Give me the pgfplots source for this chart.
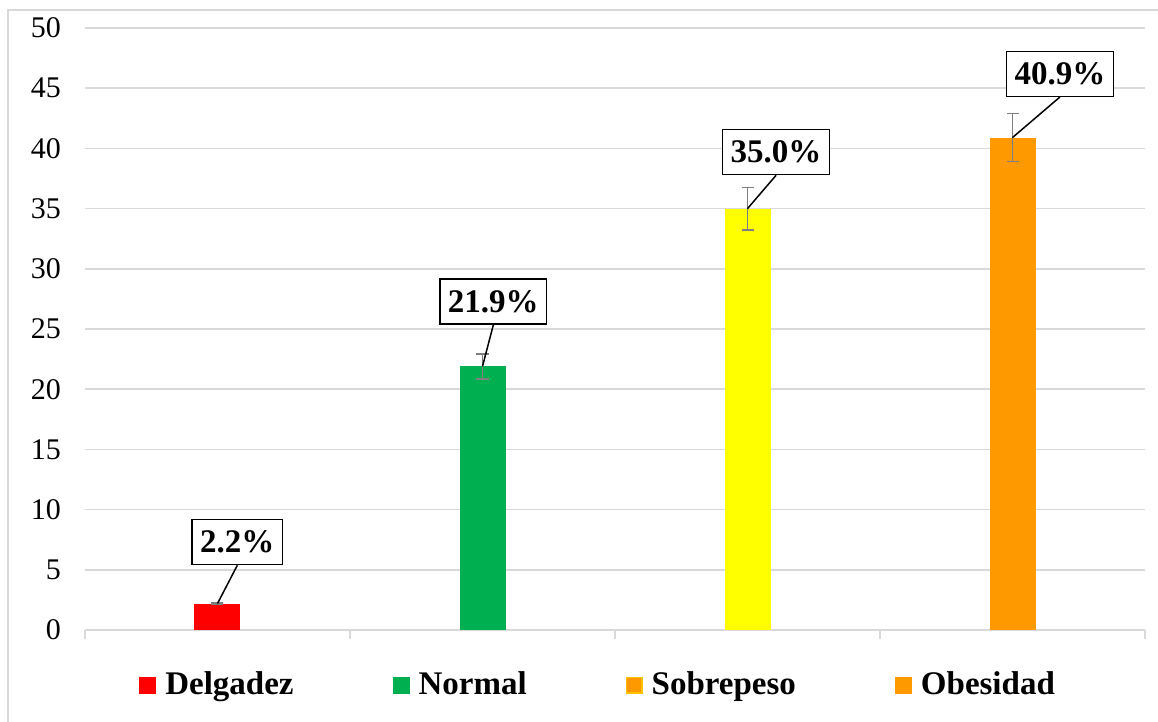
\documentclass[border=0pt]{standalone}
\usepackage{pgfplots}
\pgfplotsset{compat=1.18}
\usepackage{fontspec}
\setmainfont{Liberation Serif}
\definecolor{cRed}{HTML}{FF0000}
\definecolor{cGreen}{HTML}{00B050}
\definecolor{cYellow}{HTML}{FFFF00}
\definecolor{cOrange}{HTML}{FF9900}
\definecolor{cBorder}{HTML}{FFC000}
\definecolor{cGrid}{HTML}{D9D9D9}
\definecolor{cErr}{HTML}{7F7F7F}
\begin{document}
\begin{tikzpicture}
\useasboundingbox (-42.5pt,-46pt) rectangle (536.5pt,315pt);
\draw[cGrid, line width=0.6pt] (-38.5pt,-46pt) -- (-38.5pt,310pt) -- (536.5pt,310pt);
\begin{axis}[
  scale only axis, width=530pt, height=301pt,
  xmin=0.5, xmax=4.5, ymin=0, ymax=50,
  ytick={0,5,...,50},
  xtick={0.5,1.5,2.5,3.5,4.5},
  xticklabels={,,,,},
  axis x line=bottom, axis y line=left,
  x axis line style={-, draw=cGrid, line width=0.75pt},
  y axis line style={-, draw=none},
  tick align=outside, major tick length=4.5pt,
  xtick style={draw=cGrid, line width=0.75pt},
  ytick style={draw=none},
  ymajorgrids, grid style={draw=cGrid, line width=0.75pt},
  /pgf/number format/assume math mode=true,
  yticklabel style={font=\fontsize{15}{18}\selectfont, xshift=-4pt},
  ybar, bar width=23pt, bar shift=0pt,
  clip=false,
  legend columns=4,
  legend style={at={(0.485,-0.0914)}, anchor=center, draw=none, fill=none,
    font=\fontsize{16.5}{19}\selectfont\bfseries,
    /tikz/every even column/.append style={column sep=47.5pt},
    /tikz/every odd column/.append style={column sep=2.5pt}},
  error bars/y dir=both, error bars/y explicit,
  error bars/error bar style={draw=cErr, line width=0.85pt},
  error bars/error mark options={rotate=90, mark size=3pt, draw=cErr, line width=0.85pt},
]
\addplot[fill=cRed, draw=none,
  legend image code/.code={\fill[cRed] (0pt,-4.25pt) rectangle (8.5pt,4.25pt);}]
  coordinates {(1,2.2) +- (0,0.05)};
\addlegendentry{Delgadez}
\addplot[fill=cGreen, draw=none,
  legend image code/.code={\fill[cGreen] (0pt,-4.25pt) rectangle (8.5pt,4.25pt);}]
  coordinates {(2,21.9) +- (0,1.05)};
\addlegendentry{Normal}
\addplot[fill=cYellow, draw=none,
  legend image code/.code={\draw[draw=cBorder, fill=cOrange, line width=0.7pt] (0.35pt,-3.9pt) rectangle (8.15pt,3.9pt);}]
  coordinates {(3,35.0) +- (0,1.75)};
\addlegendentry{Sobrepeso}
\addplot[fill=cOrange, draw=none,
  legend image code/.code={\fill[cOrange] (0pt,-4.25pt) rectangle (8.5pt,4.25pt);}]
  coordinates {(4,40.9) +- (0,2.0)};
\addlegendentry{Obesidad}

\tikzset{lbl/.style={draw=black, fill=white, line width=0.75pt, inner xsep=4pt, inner ysep=0pt,
  minimum height=22.5pt,
  font=\fontsize{16.5}{19}\selectfont\bfseries}}
\node[lbl] (a) at (axis cs:1.075,7.31) {2.2\%};
\node[lbl] (b) at (axis cs:2.041,27.28) {21.9\%};
\node[lbl] (c) at (axis cs:3.108,39.7) {35.0\%};
\node[lbl] (d) at (axis cs:4.179,46.2) {40.9\%};
\draw[black, line width=0.75pt] (axis cs:1,2.2) -- (a.south);
\draw[black, line width=0.75pt] (axis cs:2,21.9) -- (b.south);
\draw[black, line width=0.75pt] (axis cs:3,35.0) -- (c.south);
\draw[black, line width=0.75pt] (axis cs:4,40.9) -- (d.south);
\end{axis}
\end{tikzpicture}
\end{document}
